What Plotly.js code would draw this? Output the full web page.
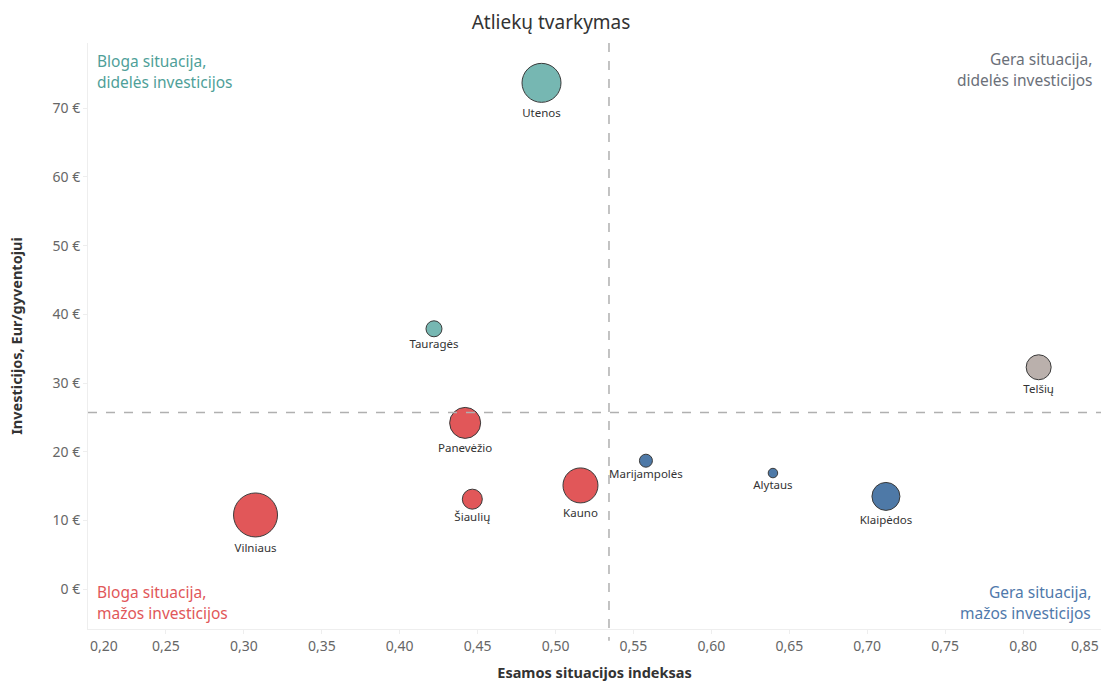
<!DOCTYPE html>
<html>
<head>
<meta charset="utf-8">
<script src="https://cdn.plot.ly/plotly-3.0.1.min.js"></script>
<style>html,body{margin:0;padding:0;background:#fff;}#chart{width:1102px;height:682px;}</style>
</head>
<body>
<div id="chart"></div>
<script>
// ---- data ----
const regions = ["Utenos","Tauragės","Telšių","Panevėžio","Marijampolės","Alytaus","Kauno","Šiaulių","Klaipėdos","Vilniaus"];
const situationIndex = [0.491, 0.422, 0.810, 0.442, 0.558, 0.6395, 0.516, 0.4466, 0.712, 0.3075];
const investmentPerCapita = [73.7, 37.9, 32.3, 24.2, 18.7, 16.9, 15.1, 13.1, 13.5, 10.8];
const bubbleValue = [39, 16, 25, 31, 13, 9.5, 35, 20, 28, 44];
const quadrant = ["tl","tl","tr","bl","br","br","bl","bl","br","bl"];
const refX = 0.5343;
const refY = 25.7;
const xTickVals = [0.20,0.25,0.30,0.35,0.40,0.45,0.50,0.55,0.60,0.65,0.70,0.75,0.80,0.85];
const xTickText = ["0,20","0,25","0,30","0,35","0,40","0,45","0,50","0,55","0,60","0,65","0,70","0,75","0,80","0,85"];
const yTickVals = [0,10,20,30,40,50,60,70];
const yTickText = ["0 €","10 €","20 €","30 €","40 €","50 €","60 €","70 €"];

const quadColors = {tl:"#76b7b2", tr:"#bab0ac", bl:"#e15759", br:"#4e79a7"};
const FONT = "Noto Sans, Open Sans, sans-serif";
const QFS = 15.5;

const trace = {
  type: "scatter",
  mode: "markers+text",
  x: situationIndex,
  y: investmentPerCapita,
  text: regions,
  textposition: "bottom center",
  textfont: {family: FONT, size: 11.5, color: "#333"},
  cliponaxis: false,
  marker: {
    size: bubbleValue,
    sizemode: "diameter",
    color: quadrant.map(q => quadColors[q]),
    opacity: 1,
    line: {color: "#3a3a3a", width: 1}
  },
  hoverinfo: "text"
};

const midTicks = xTickVals.slice(1, -1);
const midText = xTickText.slice(1, -1);

const annotations = [
  // edge tick labels (Tableau shifts them inward)
  {xref:"x", yref:"paper", x:xTickVals[0], y:0, yanchor:"top", xanchor:"center", xshift:16, yshift:-5,
   text:xTickText[0], showarrow:false, font:{family:FONT, size:14, color:"#666"}},
  {xref:"x", yref:"paper", x:xTickVals[xTickVals.length-1], y:0, yanchor:"top", xanchor:"center", xshift:-16, yshift:-5,
   text:xTickText[xTickText.length-1], showarrow:false, font:{family:FONT, size:14, color:"#666"}},
  // quadrant labels
  {xref:"paper", yref:"paper", x:0, xanchor:"left", xshift:7, y:1, yanchor:"middle", yshift:-18,
   text:"Bloga situacija,", showarrow:false, font:{family:FONT, size:QFS, color:"#4f9f99"}},
  {xref:"paper", yref:"paper", x:0, xanchor:"left", xshift:7, y:1, yanchor:"middle", yshift:-39,
   text:"didelės investicijos", showarrow:false, font:{family:FONT, size:QFS, color:"#4f9f99"}},
  {xref:"paper", yref:"paper", x:1, xanchor:"right", xshift:-7, y:1, yanchor:"middle", yshift:-16,
   text:"Gera situacija,", showarrow:false, font:{family:FONT, size:QFS, color:"#6b7079"}},
  {xref:"paper", yref:"paper", x:1, xanchor:"right", xshift:-7, y:1, yanchor:"middle", yshift:-37,
   text:"didelės investicijos", showarrow:false, font:{family:FONT, size:QFS, color:"#6b7079"}},
  {xref:"paper", yref:"paper", x:0, xanchor:"left", xshift:7, y:0, yanchor:"middle", yshift:37,
   text:"Bloga situacija,", showarrow:false, font:{family:FONT, size:QFS, color:"#e15759"}},
  {xref:"paper", yref:"paper", x:0, xanchor:"left", xshift:7, y:0, yanchor:"middle", yshift:16,
   text:"mažos investicijos", showarrow:false, font:{family:FONT, size:QFS, color:"#e15759"}},
  {xref:"paper", yref:"paper", x:1, xanchor:"right", xshift:-8, y:0, yanchor:"middle", yshift:37,
   text:"Gera situacija,", showarrow:false, font:{family:FONT, size:QFS, color:"#5079ab"}},
  {xref:"paper", yref:"paper", x:1, xanchor:"right", xshift:-8, y:0, yanchor:"middle", yshift:16,
   text:"mažos investicijos", showarrow:false, font:{family:FONT, size:QFS, color:"#5079ab"}}
];

const layout = {
  width: 1102, height: 682,
  margin: {l: 88, r: 1, t: 43, b: 53, pad: 0},
  paper_bgcolor: "#fff", plot_bgcolor: "#fff",
  showlegend: false,
  title: {text: "Atliekų tvarkymas", x: 0.5, xref: "container", y: 1 - 22/682, yref: "container",
          yanchor: "middle", xanchor: "center", font: {family: FONT, size: 19, color: "#333"}},
  xaxis: {
    range: [0.20, 0.85], tickvals: midTicks, ticktext: midText,
    showgrid: false, zeroline: false, showline: true, linecolor: "#eeeeee", linewidth: 1,
    ticks: "outside", ticklen: 4, tickcolor: "#eeeeee",
    tickfont: {family: FONT, size: 14, color: "#666"},
    title: {text: "<b>Esamos situacijos indeksas</b>", font: {family: FONT, size: 14.5, color: "#333"}, standoff: 16},
    automargin: false, fixedrange: true
  },
  yaxis: {
    range: [-5.8, 79.5], tickvals: yTickVals, ticktext: yTickText,
    showgrid: false, zeroline: false, showline: true, linecolor: "#eeeeee", linewidth: 1,
    ticks: "outside", ticklen: 4, tickcolor: "#eeeeee",
    tickfont: {family: FONT, size: 14, color: "#666"},
    title: {text: "<b>Investicijos, Eur/gyventojui</b>", font: {family: FONT, size: 14.5, color: "#333"}, standoff: 26},
    automargin: false, fixedrange: true
  },
  shapes: [
    {type: "line", xref: "x", yref: "paper", x0: refX, x1: refX, y0: 1, y1: -0.02,
     line: {color: "#b0b0b0", width: 1.5, dash: "dash"}},
    {type: "line", xref: "paper", yref: "y", x0: 0, x1: 1, y0: refY, y1: refY,
     line: {color: "#b0b0b0", width: 1.5, dash: "dash"}}
  ],
  annotations: annotations
};

Plotly.newPlot("chart", [trace], layout, {displayModeBar: false, staticPlot: true});
</script>
</body>
</html>
